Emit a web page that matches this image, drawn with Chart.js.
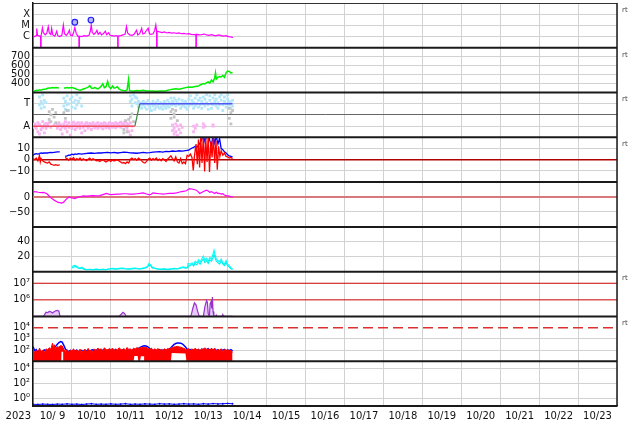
<!DOCTYPE html>
<html>
<head>
<meta charset="utf-8">
<script src="https://cdn.jsdelivr.net/npm/chart.js@4.4.1/dist/chart.umd.min.js"></script>
<style>
  html, body { margin: 0; padding: 0; background: #fff; }
  canvas { display: block; }
</style>
</head>
<body>
<canvas id="c" width="634" height="424"></canvas>
<script>
// ── Space weather stack plot (Chart.js, stacked y axes) ──
// x = hours since 2023-10-09 00:00, 15 days on the axis

const yearLabel = '2023';
const month = 10, firstDay = 9, spanHours = 360;

// panel 1: X-ray flux (W/m2), [hour, value]; 1e-9 = data dropout
const xray = [[0,1.1e-6],[1,1.0e-6],[2,1.2e-6],[2.3,5.3e-6],[2.8,1.3e-6],[4,1.1e-6],[4.7,1.1e-6],[4.75,1e-9],[4.95,1e-9],[5.0,1.2e-6],[5.8,6e-6],[6.4,2.2e-6],[7.5,1.4e-6],[8.5,2e-6],[9.4,7.6e-6],[10,2.2e-6],[11,1.5e-6],[11.5,5.3e-6],[12.2,1.4e-6],[13.5,1.1e-6],[14.6,3e-6],[15.3,1.2e-6],[16.5,1.0e-6],[17.8,1.3e-6],[18.7,1.1e-5],[19.4,1.8e-6],[20.5,1.3e-6],[21.6,2e-6],[22.4,3.7e-6],[23,1.4e-6],[24.2,1.2e-6],[25,2.3e-6],[25.8,6.5e-6],[26.6,2e-6],[27.6,1.1e-6],[28.3,1.1e-6],[28.35,1e-9],[28.55,1e-9],[28.6,1.1e-6],[30,1.0e-6],[31.5,1.2e-6],[33,1.1e-6],[34.5,1.3e-6],[35.3,3e-6],[35.9,1.1e-5],[36.5,2.4e-6],[37.5,1.6e-6],[38.6,2.2e-6],[39.4,3.7e-6],[40.2,1.6e-6],[41.3,2.4e-6],[42.2,1.4e-6],[43.5,1.9e-6],[44.6,3e-6],[45.4,1.5e-6],[46.6,2.2e-6],[47.5,1.3e-6],[48.8,1.2e-6],[50,1.1e-6],[51.3,1.2e-6],[52.2,1.1e-6],[52.25,1e-9],[52.45,1e-9],[52.5,1.1e-6],[54,1.2e-6],[55.5,1.4e-6],[56.8,1.7e-6],[57.6,7.6e-6],[58.3,2.1e-6],[59.6,1.4e-6],[61,1.3e-6],[62.3,1.6e-6],[63.8,3.7e-6],[64.6,1.4e-6],[65.8,1.9e-6],[67,5.3e-6],[67.7,1.7e-6],[68.8,2e-6],[70,3.7e-6],[71,5.8e-6],[71.8,1.8e-6],[72.8,1.6e-6],[74,1.8e-6],[75,3.5e-6],[75.7,1.1e-5],[76.2,3e-6],[76.25,1e-9],[76.45,1e-9],[76.5,3e-6],[78,2.6e-6],[79.5,2.3e-6],[81,2.6e-6],[82.5,2.1e-6],[84,2.4e-6],[85.5,2e-6],[87,2.2e-6],[88.5,1.9e-6],[90,2.1e-6],[91.5,1.8e-6],[93,1.9e-6],[94.5,1.7e-6],[96,1.8e-6],[97.5,1.6e-6],[99,1.5e-6],[100.4,1.5e-6],[100.45,1e-9],[100.65,1e-9],[100.7,1.6e-6],[102.5,1.4e-6],[104,1.5e-6],[105.5,1.7e-6],[107,1.4e-6],[108.5,1.3e-6],[110,1.5e-6],[111.5,1.3e-6],[113,1.2e-6],[114.5,1.4e-6],[116,1.2e-6],[117.5,1.1e-6],[119,1.2e-6],[120.5,1.0e-6],[122,9.5e-7],[123.3,8.2e-7]];
const flareMarks = [[25.8,1.9e-5],[35.7,3e-5]];

// panel 2: solar wind speed (km/s)
const speed = [[0,320],[1,318],[2,325],[3,322],[4,330],[5,326],[6,335],[7,338],[8,340],[9,348],[10,352],[11,350],[12,355],[13,352],[14,356],[15,354],[16,352],[16.2,null],[19,350],[20,352],[21,355],[22,350],[23,353],[24,356],[25,350],[26,345],[27,335],[28,330],[29,325],[30,332],[31,340],[32,345],[33,352],[34,360],[35,378],[36,350],[37,345],[38,355],[39,348],[40,340],[41,352],[42,370],[43,397],[44,355],[45,365],[46,425],[47,360],[48,345],[49,372],[50,350],[51,355],[52,365],[53,340],[54,330],[55,325],[56,322],[57,320],[58,330],[58.9,444],[59.5,325],[60,320],[62,318],[64,322],[66,320],[68,325],[70,318],[72,316],[74,318],[76,314],[78,316],[80,318],[82,320],[84,330],[86,338],[88,342],[90,338],[92,345],[94,355],[96,362],[98,360],[100,368],[102,372],[103,385],[104,392],[105,400],[106,395],[107,410],[108,420],[109,405],[110,440],[111,420],[112,465],[112.5,520],[113,450],[114,470],[115,480],[116,475],[117,490],[118,470],[119,520],[120,540],[121,535],[122,520],[123,525]];

// panel 3: IMF sector, points as [hour, values...]; +1 = T(oward), -1 = A(way)
const awayPts = [[0,-0.9,-1.1],[1,-0.8,-1.0],[2,-0.95,-1.2],[3,-0.7,-1.5],[4,-0.85,-1.7],[5,-1.0,-1.3],[6,-0.6,-1.1],[7,-0.9,-1.6],[8,-0.75,-1.2],[9,-1.0,-0.8],[10,-0.7],[11,-1.1],[13,-0.9],[15,-0.8,-1.2],[16,-0.7,-1.0],[17,-0.9,-1.3],[18,-1.1,-1.7],[19,-0.8,-1.0],[20,-0.6,-1.2],[21,-0.9,-1.5],[22,-0.7,-1.1],[23,-1.0,-1.8],[24,-0.8,-1.2],[25,-0.65,-1.0],[26,-0.9,-1.3],[27,-0.75,-1.1],[28,-1.0,-0.7],[29,-0.85,-1.2],[30,-0.7,-1.6],[31,-0.95,-1.1],[32,-0.8,-1.4],[33,-0.7,-1.0],[34,-0.9,-1.2],[35,-0.75,-1.0],[36,-0.85,-1.3],[37,-0.7,-1.0],[38,-0.9,-1.15],[39,-0.8,-1.05],[40,-0.7,-1.2],[41,-0.9,-1.0],[42,-0.75,-1.1],[43,-0.85,-1.25],[44,-0.7,-1.0],[45,-0.8,-1.15],[46,-0.9,-1.05],[47,-0.7,-1.2],[48,-0.8,-1.0],[49,-0.75,-1.1],[50,-0.85,-1.0],[51,-0.7,-1.15],[52,-0.8,-1.05],[53,-0.75,-0.95],[54,-0.65,-1.1],[55,-0.8,-1.0],[56,-0.7,-0.9],[57,-0.6,-1.0],[58,-0.75,-1.2],[59,-0.9,-1.5],[60,-0.7,-1.8],[61,-1.0,-1.4],[86,-0.9,-1.4],[87,-1.2,-1.7],[88,-0.8,-1.5],[89,-1.0,-1.8],[90,-1.3],[91,-0.9,-1.6],[92,-1.1],[99,-1.0,-1.5],[100,-1.2],[101,-0.9],[105,-0.8,-1.1],[106,-1.0],[111,-0.9,-1.0]];
const towardPts = [[4,1.6,0.9],[5,1.2,0.6],[6,1.8,1.0],[7,0.7,1.3],[8,1.1],[19,1.5,0.8],[20,1.2,0.5],[21,1.7,0.9],[22,1.0,0.4],[23,1.4],[24,0.7,1.6],[25,1.1],[26,0.6,1.3],[27,1.8,0.9],[28,1.2],[29,1.5],[30,0.8],[60,1.7,1.2],[61,1.4,0.8],[62,1.8],[63,1.6,1.1],[64,1.5,1.0],[65,1.2,0.7],[66,1.0,0.8],[67,1.1,0.6],[68,0.9,1.2],[69,0.7,1.0],[70,1.1,0.5],[71,0.9,1.3],[72,0.8,0.6],[73,1.0,0.4],[74,1.2,0.8],[75,0.9,0.5],[76,1.1,0.7],[77,0.8,1.3],[78,1.0,0.6],[79,0.7,1.1],[80,0.9,0.5],[81,1.2,0.8],[82,1.0,0.6],[83,0.8,1.3],[84,1.1,0.7],[85,0.9,1.5],[86,1.2,0.9],[87,1.5,1.0],[88,0.8,1.3],[89,1.1],[90,0.9,1.4],[91,1.0,0.6],[92,1.3,0.8],[93,0.9,1.1],[94,1.2,0.7],[95,1.0,0.5],[96,1.4,0.8],[97,1.7,1.0],[98,0.9,1.3],[99,1.1,0.6],[100,1.5,0.8],[101,1.0,1.8],[102,1.3,0.7],[103,0.9,1.5],[104,1.2,0.6],[105,1.6,1.0],[106,0.8,1.4],[107,1.1,1.8],[108,0.9,0.5],[109,1.3,1.7],[110,1.0,0.6],[111,1.5,0.9],[112,1.2,1.8],[113,0.8,1.4],[114,1.1,0.6],[115,1.6,0.9],[116,1.3,1.8],[117,0.9,0.4],[118,1.2,1.6],[119,1.0,0.7],[120,1.4,1.8],[121,0.9,1.2],[122,1.1,0.6],[123,0.8,1.3]];
const mixedPts = [[10,0.3,-0.4],[11,0,-0.6],[12,0.5],[13,-0.2],[14,0.2,-0.7],[19,0.2],[20,-0.3],[21,0.4],[56,-1.3,-1.6],[57,-0.5],[58,-1.5,-1.0],[59,-0.4],[60,-0.2],[61,0.1],[62,-0.6],[85,0.3,-0.3],[86,0.5],[87,-0.2,0.1],[88,0.4],[89,-0.5],[121,0.6,-0.3],[122,0.2,-0.8],[123,0.4]];
const sectorAway = [[0,-1],[62.8,-1]];
const sectorTurn = [[62.8,-1],[65.8,1]];
const sectorToward = [[65.8,1],[123,1]];

// panel 4: IMF Bt and Bz (nT)
const bt = [[0,4],[1,5],[2,5.5],[3,5],[4,5.5],[5,6],[6,5.8],[7,6],[8,6.2],[9,6],[10,6.3],[11,6.5],[12,6.4],[13,6.6],[14,6.8],[15,7],[16.5,7],[16.8,null],[19.8,3],[21,3.5],[22,4],[23,4.2],[24,5],[25,4.5],[26,5.2],[27,4.8],[28,5.5],[30,5],[32,5.5],[34,5.8],[36,6],[38,5.6],[40,6.2],[42,6],[44,6.3],[46,6.5],[48,6.2],[50,6.6],[52,6],[54,6.4],[56,6.8],[58,6.5],[60,6.2],[62,6],[64,5.8],[66,6.2],[68,6.5],[70,6.2],[72,6.4],[74,6.8],[76,7],[78,7.2],[80,6.8],[82,7.5],[84,7.2],[86,7.8],[88,7.5],[90,8],[92,7.6],[94,8.2],[96,8.5],[97,9.5],[98,10.5],[99,11],[100,12],[101,11],[102,13],[103,15],[104,18],[105,22],[106,16],[107,21],[108,24],[109,17],[110,13],[111,22],[112,15],[113,21],[114,14],[115,19],[116,10],[117,9],[118,7],[119,6],[120,4.5],[121,3.5],[122,3],[123,2.5]];
const bz = [[0,1],[1,0],[2,1.5],[3,-1],[4,4],[4.5,-2],[5,1],[6,-1],[7,-2],[8,-2.5],[9,-3],[10,-2],[11,-4],[12,-4.5],[13,-5],[14,-4.5],[15,-5],[16.5,-4.5],[16.8,null],[19.8,2],[21,1],[22,-0.5],[23,1.5],[24,0.5],[25,2],[26,-0.5],[27,1],[28,0],[29,1.5],[30,-0.5],[31,0.8],[32,0],[33,-0.8],[34,0.5],[35,1.5],[36,-0.3],[37,0.8],[38,0.2],[39,-1],[40,-0.5],[41,-1.5],[42,-0.8],[43,0],[44,-1],[45,-2],[46,-1],[47,-0.5],[48,-1.5],[49,-0.3],[50,-1.2],[51,-0.5],[52,0],[53,-1],[54,-2],[55,-3],[56,-2.5],[57,-3.5],[58,-2],[59,-3],[60,0.5],[61,1.5],[62,0],[63,1],[64,-0.5],[65,1.5],[66,0.5],[67,-1],[68,-2.5],[69,-3],[70,-1.5],[71,0.5],[72,1.5],[73,-0.5],[74,1],[75,0],[76,1.5],[77,-0.5],[78,0.5],[79,-1],[80,1],[81,0],[82,-1.5],[83,0.5],[84,2],[85,3.5],[86,1],[87,-1],[88,2.5],[89,-2],[90,-3],[91,1],[92,-3.5],[93,-2],[94,-3.5],[95,4],[96,3],[97,5],[98,2],[98.8,-9.5],[99.5,3],[100.5,14],[101.3,-4],[102,18],[102.7,-7],[103.4,20],[104.2,-3],[105,22],[105.8,-10.5],[106.5,19],[107.3,-2],[108,22],[108.8,-11],[109.6,16],[110.4,2],[111.2,21],[112,-3],[112.8,17],[113.6,-9],[114.4,12],[115.2,3],[116,8],[117,4],[118,6],[119,3],[120,2.5],[121,1.5],[122,2],[123,1]];

// panel 5: Dst (nT)
const dst = [[0,18],[2,17],[3.3,16],[5,15],[6.4,15.6],[8.4,12],[9.5,6],[10.5,0],[11.5,-4],[12.5,-8],[13.5,-12],[14.5,-15],[15.5,-18],[16.6,-19],[17.6,-20],[18.7,-18],[19.7,-12],[20.7,-6],[21.7,-2],[22.7,0],[23.8,-3],[24.8,-4],[25.8,-5],[27,-2],[28.9,1],[31,4],[33,3],[35,4],[37.1,5],[39,4],[41.2,5],[43,8],[45.3,12],[47,9],[48.4,8],[50,9],[52,10],[53.5,10],[55.5,11],[57.6,11],[59.5,10],[61.7,10],[64,11],[66,12],[67.9,14],[70,10],[72,7],[73,10],[74,14],[76,12],[78,11],[80.2,10],[82,11],[84,12],[86.4,12],[88.5,14],[90.5,17],[92.5,19],[94.6,21],[95.6,25],[96.6,28],[98.6,26],[100.7,23],[101.7,18],[102.8,12],[104.8,18],[106.9,23],[108,20],[109,16],[110,18],[111,15],[112,12],[113,16],[114,12],[115,12],[116,10],[117,11],[118,7],[119.2,4],[120.5,4],[121.5,2],[122.5,1],[123.3,0]];

// panel 6: two cyan traces
const cyanA = [[24,7],[25,8],[26,8.5],[27,7],[28,5.5],[29,5],[30,6],[31,4.5],[32,3.5],[33,3],[35,3.2],[37,2.8],[39,3.5],[41,3],[43,3.2],[45,2.8],[47,4],[49,4.5],[51,3.8],[53,4.5],[55,5],[57,4.2],[59,3.8],[61,4.5],[63,5],[65,4],[67,4.5],[69,5.5],[70.5,7],[71.5,11],[72.5,9],[73.5,6],[75,5],[77,4],[79,3.5],[81,4],[83,3.2],[85,4],[87,4.5],[89,4],[91,5.5],[92.5,6.5],[94,5.5],[95,6],[95.5,11],[97,10],[98,12],[99,9],[100,14],[101,12],[102,16],[103,13],[104,17],[105,21],[106,15],[107,18],[108,14],[109,19],[110,17],[111,24],[111.6,29],[112.3,22],[113,17],[114,15],[115,13],[116,17],[117,12],[118,10],[119,15],[120,10],[121,8],[122,5],[123,4]];
const cyanB = [[24,5],[25,6],[26,7],[27,6],[28,4.5],[29,4],[30,5],[31,3.5],[32,3],[33,2.5],[35,2.8],[37,2.5],[39,3],[41,2.5],[43,3],[45,2.5],[47,3.5],[49,3.8],[51,3.2],[53,3.8],[55,4.2],[57,3.6],[59,3.2],[61,3.8],[63,4.2],[65,3.5],[67,3.8],[69,4.5],[70.5,6],[71.5,9],[72.5,8],[73.5,5],[75,4.2],[77,3.4],[79,3],[81,3.4],[83,2.8],[85,3.4],[87,3.8],[89,3.5],[91,4.5],[92.5,5.5],[94,4.8],[95,5],[95.5,8],[97,8],[98,10],[99,7.5],[100,11],[101,9],[102,13],[103,10],[104,14],[105,17],[106,12],[107,15],[108,11],[109,16],[110,14],[111,19],[111.6,23],[112.3,18],[113,14],[114,12],[115,10],[116,14],[117,10],[118,8],[119,12],[120,8],[121,6],[122,4],[123,3]];

// panel 7: electron flux (log)
const electrons = [[0,1e5],[6,1e5],[7,1.2e5],[8,1.8e5],[9,1.7e5],[10,2e5],[11,1.9e5],[12,1.6e5],[13,1.9e5],[14,2.2e5],[15,2.3e5],[16,2.1e5],[16.6,1e5],[53,1e5],[54.5,1.4e5],[55.5,1.8e5],[56.5,1.5e5],[57.5,1e5],[97,1e5],[97.5,1.2e5],[98.5,3e5],[99.5,6.6e5],[100.5,5e5],[101.5,2e5],[102.5,1e5],[105,1e5],[106,4e5],[107,9e5],[107.5,7e5],[108,1.5e5],[108.7,1e5],[109.2,6e5],[109.8,8e5],[110.2,3e5],[110.6,1.5e6],[111,2e5],[111.5,1e5],[112.5,1e5],[113,1.2e5],[113.5,1e5],[116.5,1e5],[117,1.3e5],[117.5,1e5],[123,1e5]];

// panel 8: particle counts (log), blue trace and red band (top / bottom edge)
const countsBlue = [[0,200],[1,90],[2,110],[3,60],[4,95],[5,55],[6,85],[7,100],[8,65],[9,90],[10,110],[11,95],[12,130],[13,160],[14,220],[15,320],[16,460],[17,560],[18,500],[19,260],[20,120],[21,85],[22,70],[23,95],[24,60],[25,90],[26,75],[27,100],[28,65],[29,85],[30,95],[31,70],[32,100],[33,80],[34,105],[35,75],[36,95],[37,110],[38,70],[39,100],[40,85],[41,105],[42,75],[43,95],[44,110],[45,80],[46,100],[47,90],[48,105],[49,70],[50,95],[51,110],[52,85],[53,100],[54,75],[55,95],[56,105],[57,80],[58,100],[59,90],[60,105],[61,85],[62,110],[63,95],[64,120],[65,140],[66,170],[67,200],[68,225],[69,235],[70,215],[71,180],[72,130],[73,100],[74,85],[75,105],[76,75],[77,95],[78,110],[79,80],[80,100],[81,90],[82,105],[83,95],[84,120],[85,160],[86,230],[87,320],[88,380],[89,420],[90,430],[91,410],[92,350],[93,270],[94,190],[95,120],[96,95],[97,110],[98,80],[99,100],[100,70],[101,95],[102,110],[103,85],[104,100],[105,120],[106,90],[107,110],[108,130],[109,95],[110,115],[111,100],[112,125],[113,90],[114,110],[115,80],[116,105],[117,95],[118,115],[119,85],[120,100],[121,90],[122,110],[123,80]];
const countsRedTop = [[0,110],[1,60],[2,90],[3,50],[4,150],[5,70],[6,95],[7,55],[8,130],[9,100],[10,160],[11,120],[12,400],[12.5,150],[13,300],[14,140],[15,200],[16,180],[17,250],[18,230],[19,120],[20,70],[21,110],[22,60],[23,95],[24,80],[25,130],[26,65],[27,100],[28,75],[29,120],[30,60],[31,90],[32,110],[33,70],[34,140],[35,85],[36,100],[37,60],[38,120],[39,90],[40,150],[41,100],[42,130],[43,80],[44,160],[45,110],[46,90],[47,140],[48,100],[49,150],[50,85],[51,130],[52,95],[53,160],[54,120],[55,100],[56,140],[57,90],[58,170],[59,110],[60,130],[61,90],[62,150],[63,120],[64,170],[65,140],[66,180],[67,150],[68,190],[69,160],[70,170],[71,130],[72,110],[73,150],[74,90],[75,130],[76,100],[77,140],[78,80],[79,120],[80,95],[81,130],[82,100],[83,140],[84,120],[85,150],[86,170],[87,190],[88,200],[89,210],[90,190],[91,180],[92,160],[93,140],[94,120],[95,100],[96,140],[97,90],[98,130],[99,80],[100,150],[101,100],[102,120],[103,90],[104,140],[105,100],[106,160],[107,110],[108,130],[109,90],[110,150],[111,100],[112,140],[113,80],[114,120],[115,95],[116,130],[117,70],[118,110],[119,90],[120,120],[121,70],[122,100],[123,60]];
const countsRedLow = [[0,10],[17.4,10],[17.6,70],[18.6,70],[18.8,10],[62,10],[62.5,30],[64.5,30],[65,10],[66,10],[66.5,28],[68.5,28],[69,10],[85,10],[85.5,55],[94,50],[94.6,10],[123,10]];

// panel 9: low flat trace (log)
const lowFlux = [[0,0.17],[3,0.16],[6,0.18],[9,0.17],[12,0.16],[15,0.18],[18,0.17],[21,0.19],[24,0.17],[27,0.18],[30,0.16],[33,0.18],[36,0.2],[39,0.17],[42,0.18],[45,0.17],[48,0.19],[51,0.17],[54,0.18],[57,0.2],[60,0.17],[63,0.18],[66,0.17],[69,0.19],[72,0.18],[75,0.17],[78,0.2],[81,0.18],[84,0.19],[87,0.17],[90,0.18],[93,0.2],[96,0.18],[99,0.19],[102,0.17],[105,0.2],[108,0.18],[111,0.21],[114,0.19],[117,0.2],[120,0.22],[123,0.2]];

const rtPanels = ['y1', 'y2', 'y3', 'y4', 'y7', 'y8'];

Chart.defaults.font.family = '"DejaVu Sans", sans-serif';
Chart.defaults.font.size = 10;
Chart.defaults.color = '#111';

const gridGray = '#d2d2d2';

function flatten(rows) {
  const out = [];
  rows.forEach(r => r.slice(1).forEach(v => out.push([r[0], v])));
  return out;
}

function panelAxis(weight, type, min, max, tickVals, tickText, gridColor) {
  return {
    type, min, max, weight,
    position: 'left',
    stack: 'panels',
    stackWeight: 1,
    afterBuildTicks: s => { s.ticks = tickVals.map(v => ({ value: v })); },
    afterFit: s => { s.width = 33; s.paddingTop = 0; s.paddingBottom = 0; },
    ticks: { autoSkip: false, padding: 3, color: '#111', callback: (v, i) => tickText[i] },
    grid: { drawTicks: false, color: gridColor || gridGray, lineWidth: 1 },
    border: { color: '#111', width: 1.5 }
  };
}

const hideAt = skip => ctx => (ctx.tick && skip.includes(ctx.tick.value)) ? 'rgba(0,0,0,0)' : gridGray;

function line(data, axis, color, width, extra) {
  return Object.assign({ data, yAxisID: axis, borderColor: color, borderWidth: width, pointRadius: 0, spanGaps: false, order: 10 }, extra || {});
}
function dots(data, axis, color, extra) {
  return Object.assign({ data, yAxisID: axis, showLine: false, pointStyle: 'rect', pointRadius: 2, pointBorderWidth: 0, pointBackgroundColor: color, borderColor: color, order: 12 }, extra || {});
}
function refLine(axis, v, color, width, dash) {
  return line([[0, v], [spanHours, v]], axis, color, width, { borderDash: dash || [], order: 20 });
}

const datasets = [
  line(xray, 'y1', '#ff00ff', 1.2),
  dots(flareMarks, 'y1', '#b8b8ff', { pointStyle: 'circle', pointRadius: 2.8, pointBorderWidth: 1.2, pointBorderColor: '#2020ff', order: 1 }),

  line(speed, 'y2', '#00ee00', 1.5),

  dots(flatten(mixedPts), 'y3', '#c4c4c4'),
  dots(flatten(awayPts), 'y3', '#f8b4f0'),
  dots(flatten(towardPts), 'y3', '#b4e6fa'),
  line(sectorAway, 'y3', '#f05060', 1.5, { order: 5 }),
  line(sectorTurn, 'y3', '#3a8a3a', 1.2, { order: 5 }),
  line(sectorToward, 'y3', '#5555f0', 1.5, { order: 5 }),

  refLine('y4', 0, '#b00000', 1.5),
  line(bt, 'y4', '#0000ff', 1.3),
  line(bz, 'y4', '#ff0000', 1.3, { order: 8 }),

  refLine('y5', 0, '#d87878', 2),
  line(dst, 'y5', '#ff00ff', 1.2),

  line(cyanB, 'y6', '#00f0f0', 1.1),
  line(cyanA, 'y6', '#00ffff', 1.1),

  refLine('y7', 1e7, '#cc0000', 1),
  refLine('y7', 1e6, '#cc0000', 1),
  line(electrons, 'y7', '#9933cc', 1.2, { fill: 'start', backgroundColor: 'rgba(222,180,245,0.7)' }),

  refLine('y8', 1e4, '#dd3030', 1.5, [10, 5]),
  line(countsBlue, 'y8', '#0000ff', 1.5),
  line(countsRedLow, 'y8', 'rgba(0,0,0,0)', 0, { order: 9 }),

  line(lowFlux, 'y9', '#0000ff', 1, { pointRadius: 0.9, pointBackgroundColor: '#0000ff', pointBorderWidth: 0 })
];
// red band in panel 8, filled down to its lower edge
const redLowIndex = datasets.length - 2;
datasets.splice(datasets.length - 1, 0,
  line(countsRedTop, 'y8', '#ff0000', 1, { order: 8, fill: { target: redLowIndex }, backgroundColor: '#ff0000' }));

const panelFrame = {
  id: 'panelFrame',
  beforeDatasetDraw(chart, args) {
    const s = args.meta.yScale, a = chart.chartArea, ctx = chart.ctx;
    ctx.save();
    ctx.beginPath();
    ctx.rect(a.left, s.top, a.right - a.left, s.bottom - s.top);
    ctx.clip();
  },
  afterDatasetDraw(chart) {
    chart.ctx.restore();
  },
  afterDraw(chart) {
    const ctx = chart.ctx, a = chart.chartArea;
    const panels = Object.values(chart.scales).filter(s => s.axis === 'y');
    ctx.save();
    ctx.strokeStyle = '#333';
    ctx.lineWidth = 1;
    ctx.beginPath();
    ctx.moveTo(a.left, a.top + 0.5);
    ctx.lineTo(a.right, a.top + 0.5);
    ctx.stroke();

    ctx.strokeStyle = '#1a1a1a';
    ctx.lineWidth = 2;
    panels.forEach(s => {
      ctx.beginPath();
      ctx.moveTo(a.left, s.bottom);
      ctx.lineTo(a.right, s.bottom);
      ctx.stroke();
    });
    ctx.lineWidth = 1.5;
    ctx.beginPath();
    ctx.moveTo(a.right, a.top);
    ctx.lineTo(a.right, a.bottom);
    ctx.stroke();

    ctx.fillStyle = '#444';
    ctx.font = '7px "DejaVu Sans"';
    ctx.textAlign = 'left';
    ctx.textBaseline = 'middle';
    rtPanels.forEach(id => ctx.fillText('rt', a.right + 5, chart.scales[id].top + 7));

    ctx.fillStyle = '#111';
    ctx.font = '10px "DejaVu Sans"';
    ctx.textAlign = 'right';
    ctx.textBaseline = 'middle';
    ctx.fillText(yearLabel, a.left - 2, a.bottom + 10);
    ctx.restore();
  }
};

new Chart(document.getElementById('c'), {
  type: 'line',
  data: { datasets },
  plugins: [panelFrame],
  options: {
    responsive: false,
    animation: false,
    devicePixelRatio: 1,
    layout: { autoPadding: false, padding: { top: 3, right: 17, left: 0, bottom: 0 } },
    plugins: { legend: { display: false }, tooltip: { enabled: false } },
    scales: {
      x: {
        type: 'linear', min: 0, max: spanHours,
        afterBuildTicks: s => {
          const t = [];
          for (let h = 0; h <= spanHours; h += 12) t.push({ value: h });
          s.ticks = t;
        },
        afterFit: s => { s.height = 18; s.paddingLeft = 0; s.paddingRight = 0; },
        ticks: {
          autoSkip: false, maxRotation: 0, padding: 4, color: '#111',
          callback: v => {
            if (v % 24 !== 12) return '';
            const d = firstDay + (v - 12) / 24;
            return month + '/' + (d < 10 ? ' ' + d : d);
          }
        },
        grid: { drawTicks: false, color: ctx => (ctx.tick && ctx.tick.value % 24 === 0) ? gridGray : 'rgba(0,0,0,0)' },
        border: { color: '#111', width: 1.5 }
      },
      y1: panelAxis(9, 'logarithmic', 1e-7, 1e-3, [1e-6, 1e-5, 1e-4], ['C', 'M', 'X']),
      y2: panelAxis(8, 'linear', 300, 800, [400, 500, 600, 700], ['400', '500', '600', '700']),
      y3: panelAxis(7, 'linear', -2, 2, [-1, 0, 1], ['A', '', 'T'], ctx => (ctx.tick && ctx.tick.value === 0) ? '#666' : gridGray),
      y4: panelAxis(6, 'linear', -20, 20, [-10, 0, 10], ['\u221210', '0', '10'], hideAt([0])),
      y5: panelAxis(5, 'linear', -100, 50, [-50, 0], ['\u221250', '0'], hideAt([0])),
      y6: panelAxis(4, 'linear', 0, 60, [20, 40], ['20', '40']),
      y7: panelAxis(3, 'logarithmic', 1e5, 5e7, [1e6, 1e7], ['10\u2076', '10\u2077'], 'rgba(0,0,0,0)'),
      y8: panelAxis(2, 'logarithmic', 1e1, 1e5, [1e2, 1e3, 1e4], ['10\u00b2', '10\u00b3', '10\u2074'], hideAt([1e4])),
      y9: panelAxis(1, 'logarithmic', 1e-1, 1e5, [1, 1e2, 1e4], ['10\u2070', '10\u00b2', '10\u2074'])
    }
  }
});
</script>
</body>
</html>
